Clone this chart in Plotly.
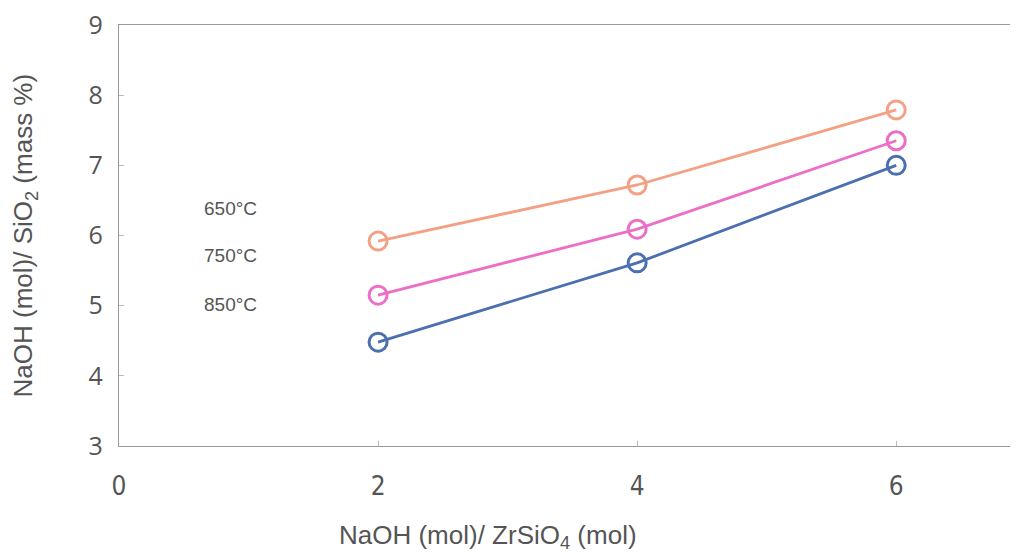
import plotly.graph_objects as go

x_vals = [2, 4, 6]
series_names = ["650°C", "750°C", "850°C"]
y_650 = [5.92, 6.72, 7.79]
y_750 = [5.15, 6.09, 7.35]
y_850 = [4.48, 5.61, 7.00]
colors = ["#F4A084", "#EC6EC6", "#4C6FB0"]
label_y = [6.39, 5.71, 5.02]

fig = go.Figure()
for name, ys, c in zip(series_names, [y_650, y_750, y_850], colors):
    fig.add_trace(go.Scatter(
        x=x_vals, y=ys, mode="lines+markers", name=name,
        line=dict(color=c, width=2.8),
        marker=dict(symbol="circle-open", size=18, color=c, line=dict(width=3, color=c)),
        showlegend=False,
    ))

for name, ly in zip(series_names, label_y):
    fig.add_annotation(x=0.86, y=ly, text=name, showarrow=False, xanchor="center",
                       font=dict(family="Liberation Sans", size=19, color="#555555"))

# axis titles
fig.add_annotation(xref="paper", yref="paper", x=0.41, y=-0.216, yanchor="middle",
                   text="NaOH (mol)/ ZrSiO<sub>4</sub> (mol)", showarrow=False,
                   font=dict(family="Liberation Sans", size=26, color="#555555"))
fig.add_annotation(xref="paper", yref="paper", x=-0.1046, y=0.50, xanchor="center",
                   yanchor="middle", textangle=-90,
                   text="NaOH (mol)/ SiO<sub>2</sub> (mass %)", showarrow=False,
                   font=dict(family="Liberation Sans", size=26, color="#555555"))

fig.update_layout(
    width=1010, height=544,
    margin=dict(l=111, r=0, t=17, b=106),
    paper_bgcolor="white", plot_bgcolor="white",
    font=dict(family="Liberation Sans", color="#555555"),
)
fig.update_xaxes(
    range=[0, 6.94], tickvals=[0, 2, 4, 6], ticktext=["0", "2", "4", "6"],
    automargin=False, ticklabeloverflow="allow",
    showgrid=False, zeroline=False, showline=True, linecolor="#999999", linewidth=1.2,
    mirror=True, ticks="inside", ticklen=5, tickcolor="#bbbbbb",
    ticklabelstandoff=17,
    tickfont=dict(family="Liberation Sans Narrow, DejaVu Sans Condensed, Liberation Sans", size=26, color="#555555"),
)
fig.update_yaxes(
    range=[3, 9], tickvals=[3, 4, 5, 6, 7, 8, 9],
    automargin=False, ticklabeloverflow="allow",
    showgrid=False, zeroline=False, showline=True, linecolor="#999999", linewidth=1.2,
    mirror=False, ticks="inside", ticklen=5, tickcolor="#bbbbbb",
    ticklabelstandoff=10,
    tickfont=dict(family="Open Sans", size=25, color="#555555"),
)

fig.write_html("out.html")
